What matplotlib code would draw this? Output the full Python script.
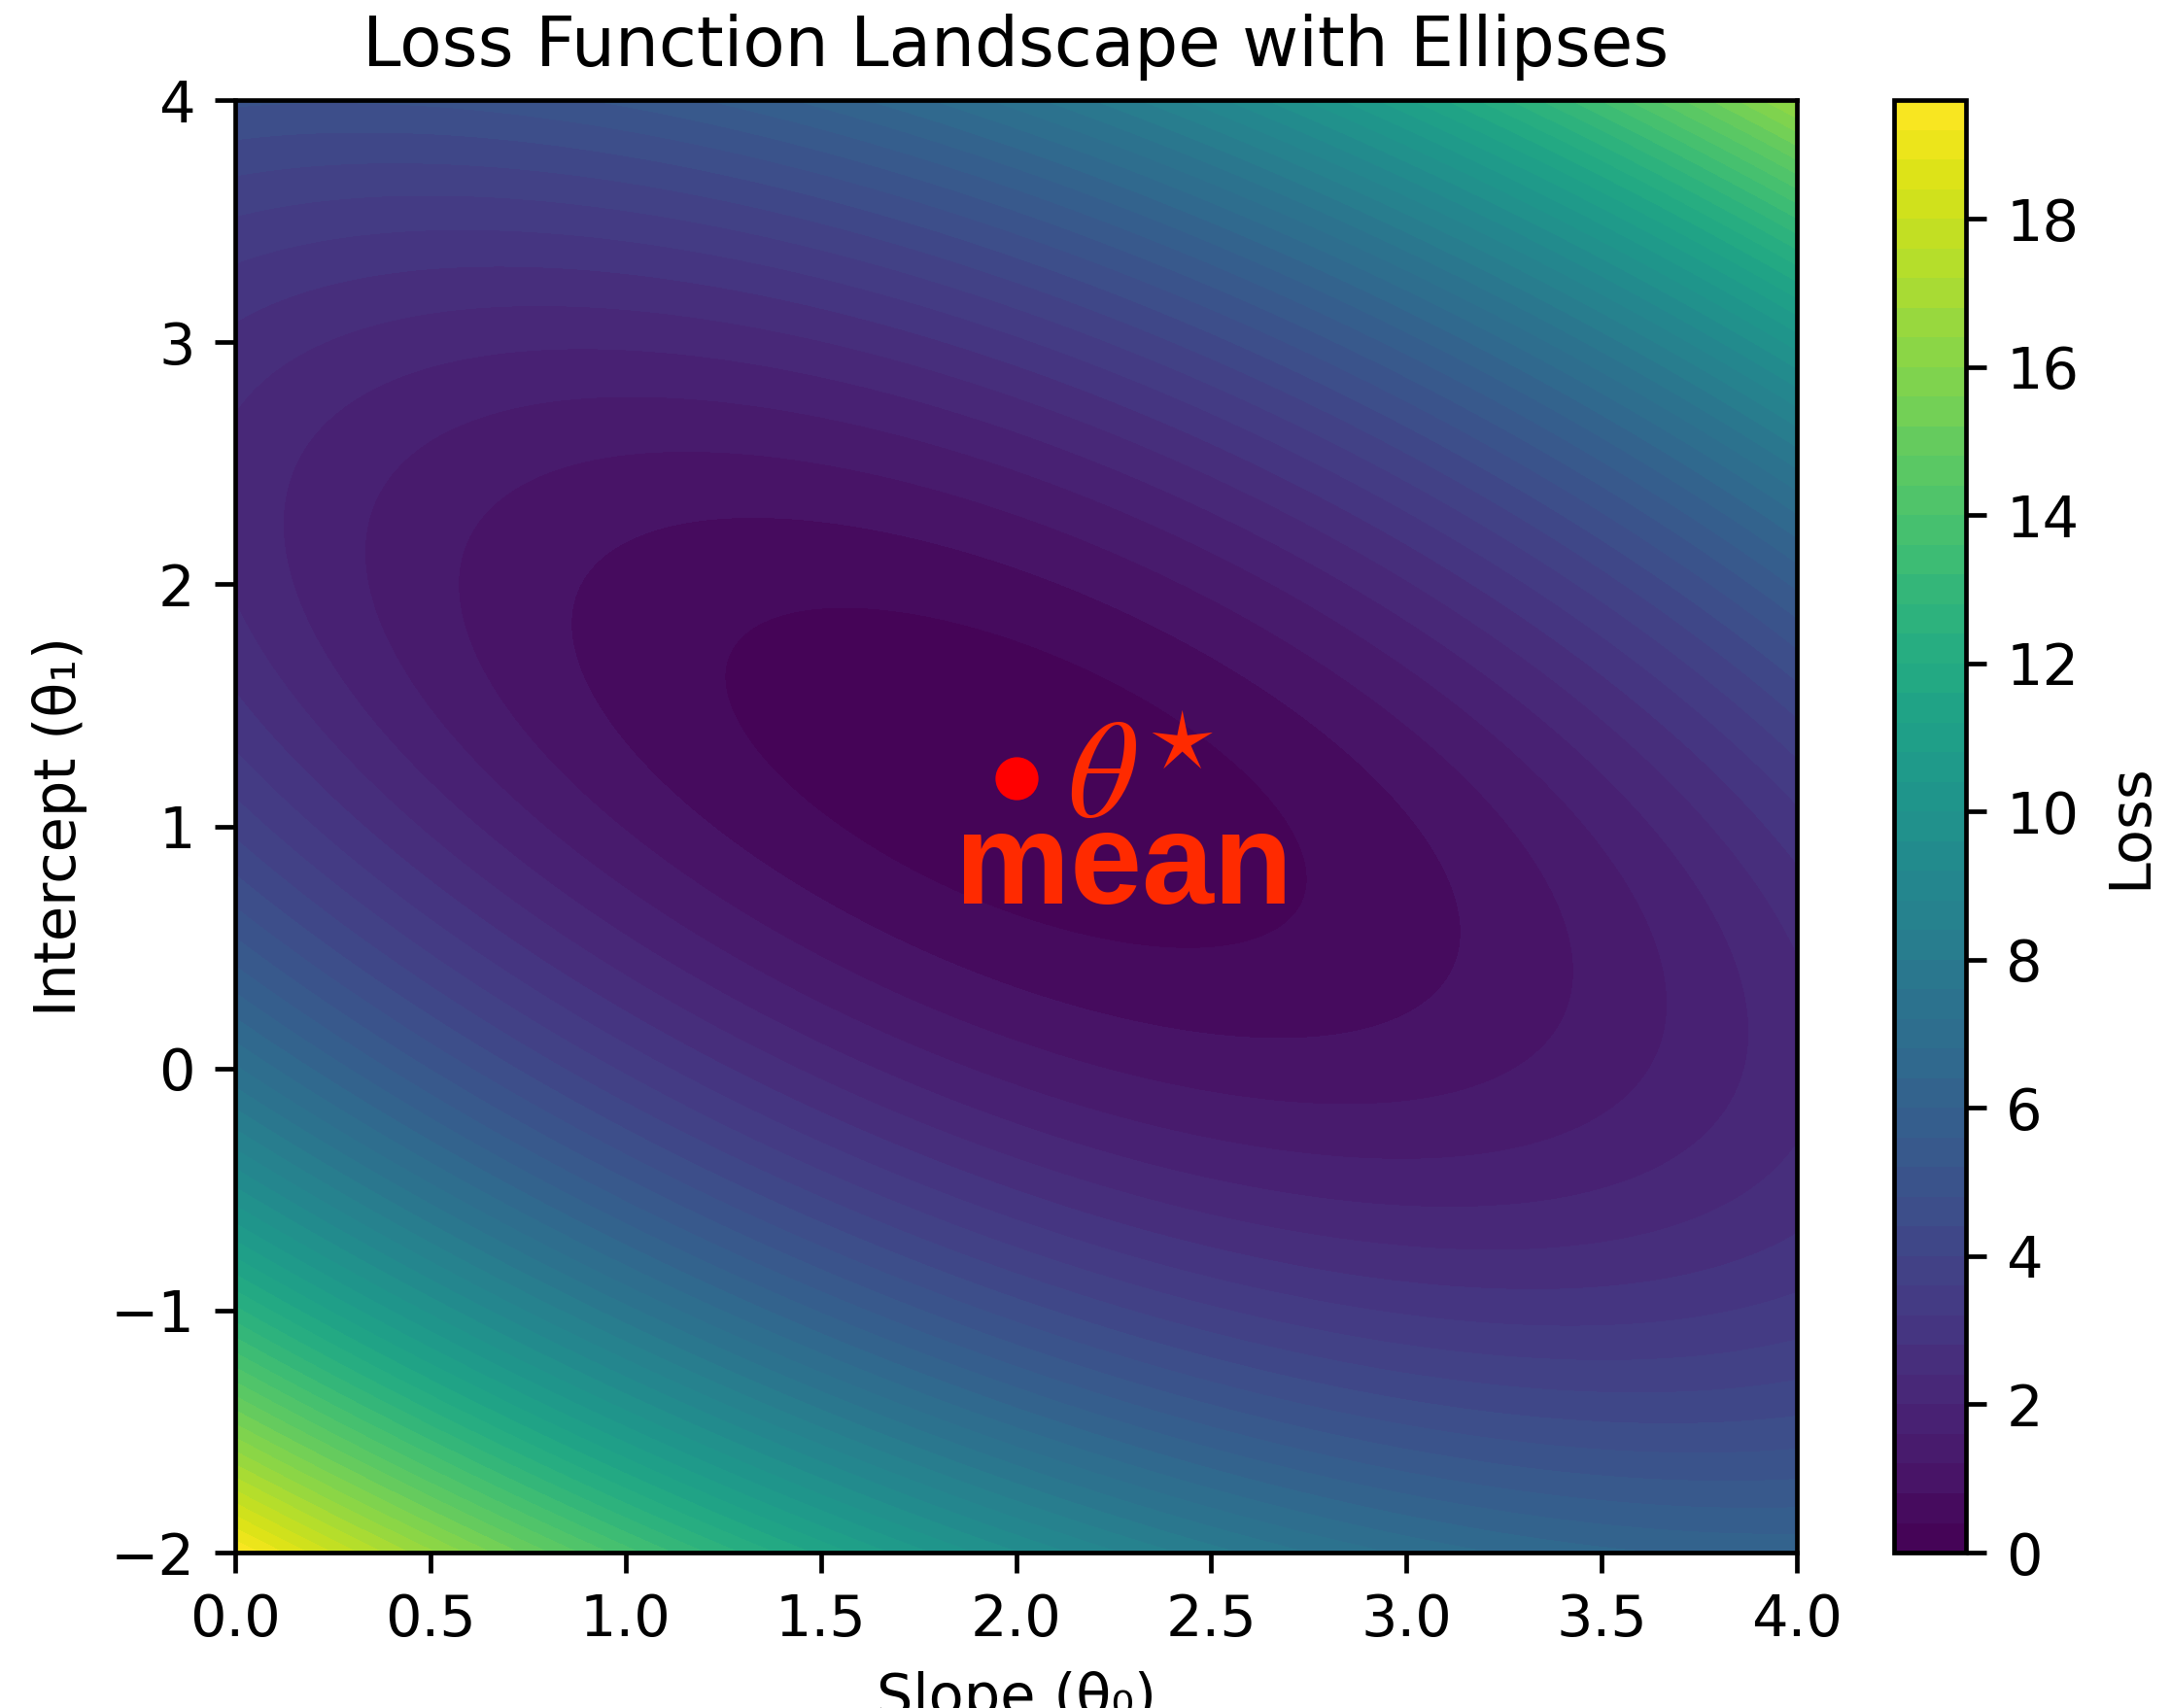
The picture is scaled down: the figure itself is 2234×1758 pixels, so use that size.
import numpy as np
import matplotlib
matplotlib.use('Agg')
import matplotlib.pyplot as plt

# 손실 함수 파라미터
theta_star = [2.0, 1.2]      # 최소점 (slope, intercept)
quad_a = 0.83                # slope^2 계수
quad_b = 0.52                # 교차항 계수
quad_c = 0.93                # intercept^2 계수
loss_min = 0.1

slope_range = [0.0, 4.0]
intercept_range = [-2.0, 4.0]
cbar_ticks = [0, 2, 4, 6, 8, 10, 12, 14, 16, 18]

# 격자 만들기
t0 = np.linspace(slope_range[0], slope_range[1], 300)
t1 = np.linspace(intercept_range[0], intercept_range[1], 300)
T0, T1 = np.meshgrid(t0, t1)
d0 = T0 - theta_star[0]
d1 = T1 - theta_star[1]
Z = quad_a * d0**2 + 2 * quad_b * d0 * d1 + quad_c * d1**2 + loss_min

plt.rcParams['mathtext.fontset'] = 'stix'

fig = plt.figure(figsize=(2234 / 425, 1758 / 425), dpi=425)
ax = fig.add_axes([0.1083, 0.0910, 0.7194, 0.8504])
cax = fig.add_axes([0.8724, 0.0910, 0.0331, 0.8504])

levels = np.linspace(0, Z.max(), 50)
cs = ax.contourf(T0, T1, Z, levels=levels, cmap='viridis')
cb = fig.colorbar(cs, cax=cax)
cb.set_ticks(cbar_ticks)
cb.set_label('Loss')

# 최소점 표시
ax.plot(theta_star[0], theta_star[1], 'o', color='red', markersize=6.5)
ax.text(2.13, 1.04, r'$\theta^{\star}$', color='#ff2a00', fontsize=24,
        ha='left', va='baseline')
ax.text(1.845, 0.68, 'mean', color='#ff2a00', fontsize=22.5, fontweight='bold',
        family='Liberation Sans', ha='left', va='baseline')

ax.set_xlim(slope_range)
ax.set_ylim(intercept_range)
ax.set_title('Loss Function Landscape with Ellipses')
ax.set_xlabel('Slope (θ₀)')
ax.set_ylabel('Intercept (θ₁)')

fig.savefig('out.png', dpi=425)
